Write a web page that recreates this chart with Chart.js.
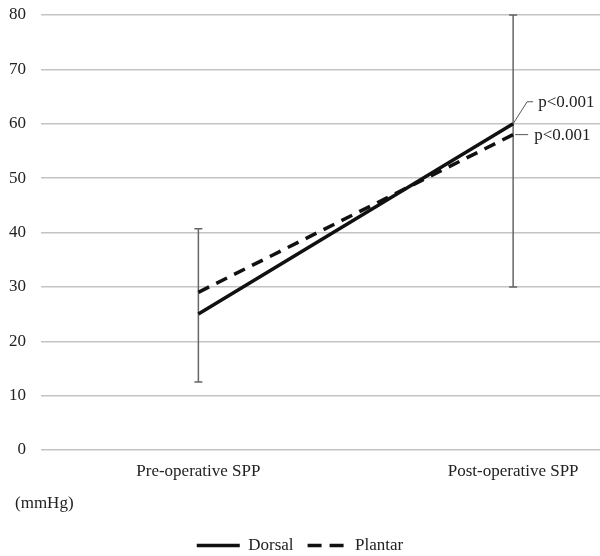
<!DOCTYPE html>
<html lang="en">
<head>
   <meta charset="UTF-8">
   <title>SPP before and after operation</title>
   <script src="https://cdn.jsdelivr.net/npm/chart.js"></script>
   <style>
      body { margin: 0; background: #fff; }
      .wrap { width: 600px; height: 556px; }
   </style>
</head>
<body>
   <div class="wrap"><canvas id="sppChart" width="600" height="556"></canvas></div>
   <script>
      // data
      const categories = ["Pre-operative SPP", "Post-operative SPP"];
      const dorsal = [25, 60];
      const plantar = [29, 58];
      const errLow = [12.5, 30];
      const errHigh = [40.7, 80];
      const pLabels = ["p<0.001", "p<0.001"];
      const yTicks = [0, 10, 20, 30, 40, 50, 60, 70, 80];

      const FONT = "'Liberation Serif', 'DejaVu Serif', serif";

      // error bars, p-value callouts and the unit label
      const extras = {
         id: 'extras',
         beforeDatasetsDraw(chart) {
            const { ctx, scales: { x, y } } = chart;
            ctx.save();
            ctx.strokeStyle = '#666';
            ctx.lineWidth = 1.5;
            categories.forEach((c, i) => {
               const px = x.getPixelForValue(i);
               const top = y.getPixelForValue(errHigh[i]);
               const bot = y.getPixelForValue(errLow[i]);
               ctx.beginPath();
               ctx.moveTo(px, top); ctx.lineTo(px, bot);
               ctx.moveTo(px - 4, top); ctx.lineTo(px + 4, top);
               ctx.moveTo(px - 4, bot); ctx.lineTo(px + 4, bot);
               ctx.stroke();
            });
            ctx.restore();
         },
         afterDraw(chart) {
            const { ctx, scales: { x, y } } = chart;
            ctx.save();
            const last = categories.length - 1;
            const px = x.getPixelForValue(last);
            const yd = y.getPixelForValue(dorsal[last]);
            const yp = y.getPixelForValue(plantar[last]);
            ctx.strokeStyle = '#555';
            ctx.lineWidth = 1;
            ctx.beginPath();
            ctx.moveTo(px, yd); ctx.lineTo(px + 14, yd - 22); ctx.lineTo(px + 20, yd - 22);
            ctx.moveTo(px + 2, yp); ctx.lineTo(px + 15, yp);
            ctx.stroke();
            ctx.fillStyle = '#222';
            ctx.font = '17px ' + FONT;
            ctx.textAlign = 'left';
            ctx.textBaseline = 'middle';
            ctx.fillText(pLabels[0], px + 25, yd - 21);
            ctx.fillText(pLabels[1], px + 21, yp + 1);
            ctx.fillText('(mmHg)', 15, 504);
            ctx.restore();
         }
      };

      new Chart(document.getElementById('sppChart'), {
         type: 'line',
         data: {
            datasets: [{
               label: 'Dorsal',
               data: dorsal.map((v, i) => ({ x: i, y: v })),
               borderColor: '#111',
               backgroundColor: '#111',
               borderWidth: 3.5,
               pointRadius: 0,
               pointStyle: 'line'
            }, {
               label: 'Plantar',
               data: plantar.map((v, i) => ({ x: i, y: v })),
               borderColor: '#111',
               backgroundColor: '#111',
               borderWidth: 3.5,
               borderDash: [12, 8],
               pointRadius: 0,
               pointStyle: 'line'
            }]
         },
         options: {
            responsive: false,
            animation: false,
            layout: { padding: { top: 15, right: 0, bottom: -8, left: 0 } },
            scales: {
               x: {
                  type: 'linear',
                  min: -0.5,
                  max: 1.276,
                  afterBuildTicks: s => { s.ticks = categories.map((c, i) => ({ value: i })); },
                  afterFit: s => { s.height = 77; },
                  grid: { display: false },
                  border: { display: false },
                  ticks: {
                     callback: v => categories[v],
                     color: '#222',
                     font: { family: FONT, size: 17 },
                     padding: 3,
                     maxRotation: 0
                  }
               },
               y: {
                  min: 0,
                  max: 80,
                  afterBuildTicks: s => { s.ticks = yTicks.map(v => ({ value: v })); },
                  afterFit: s => { s.width = 41; s.paddingTop = 0; s.paddingBottom = 0; },
                  grid: { color: '#c4c4c4', lineWidth: 1.5, drawTicks: false },
                  border: { display: false },
                  ticks: {
                     color: '#222',
                     font: { family: FONT, size: 17 },
                     padding: 15
                  }
               }
            },
            plugins: {
               legend: {
                  position: 'bottom',
                  labels: {
                     usePointStyle: true,
                     pointStyleWidth: 43,
                     color: '#222',
                     font: { family: FONT, size: 17 },
                     padding: 10,
                     generateLabels: chart =>
                        Chart.defaults.plugins.legend.labels.generateLabels(chart).map(l => {
                           const dashed = !!chart.data.datasets[l.datasetIndex].borderDash;
                           return {
                              ...l,
                              lineWidth: 3.5,
                              lineDash: dashed ? [14, 8] : [],
                              lineDashOffset: dashed ? 18 : 0
                           };
                        })
                  }
               },
               tooltip: { enabled: false }
            }
         },
         plugins: [extras]
      });
   </script>
</body>
</html>
